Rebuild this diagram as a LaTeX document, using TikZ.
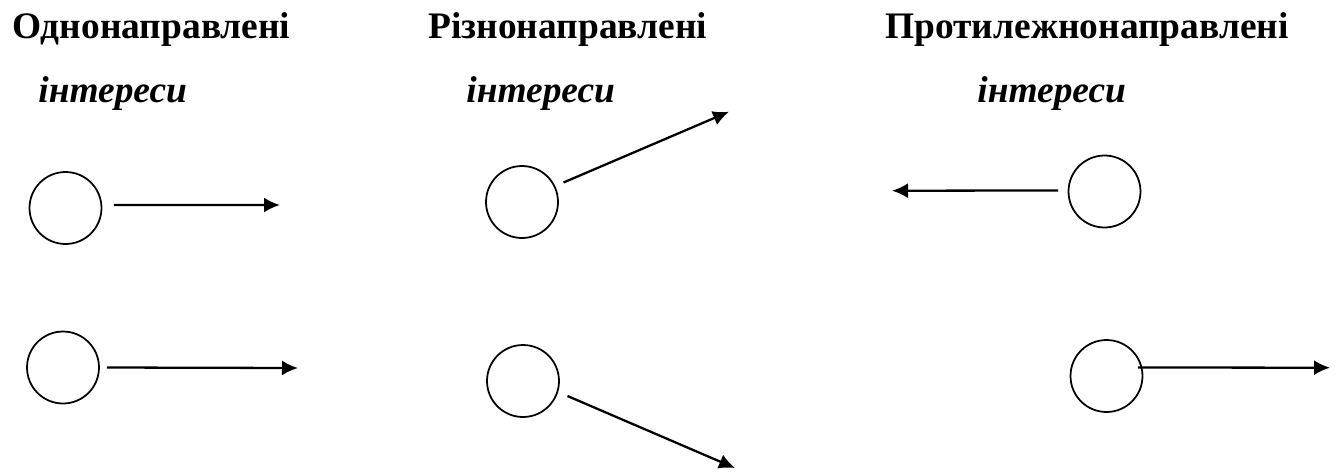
\documentclass[tikz,border=0pt]{standalone}
\usepackage{fontspec}
\setmainfont{Liberation Serif}
\usetikzlibrary{arrows.meta}

\tikzset{
  kolo/.style={draw, circle, line width=1pt, minimum size=1.44cm, inner sep=0pt},
  strilka/.style={line width=1.3pt, -{Latex[length=0.32cm,width=0.3cm]}},
  zagolovok/.style={anchor=base west, inner sep=0pt, font=\fontsize{21.3}{25}\selectfont\bfseries},
  pidpys/.style={anchor=base west, inner sep=0pt, font=\fontsize{21.3}{25}\selectfont\bfseries\itshape}
}

\begin{document}
\begin{tikzpicture}[x=0.02cm, y=-0.02cm]
            \useasboundingbox (0,0) rectangle (1339,471);

            % Заголовки
            \node[zagolovok] (z1) at (12,38) {Однонаправлені};
            \node[zagolovok] (z2) at (428,38) {Різнонаправлені};
            \node[zagolovok] (z3) at (885,38) {Протилежнонаправлені};
            \node[pidpys] (p1) at (38,102) {інтереси};
            \node[pidpys] (p2) at (466,102) {інтереси};
            \node[pidpys] (p3) at (977,102) {інтереси};

            % Кола
            \node[kolo] (c1) at (65.5,208) {};
            \node[kolo] (c2) at (63,367.5) {};
            \node[kolo] (c5) at (522,202) {};
            \node[kolo] (c6) at (523,381) {};
            \node[kolo] (c3) at (1104.5,191.5) {};
            \node[kolo] (c4) at (1106.5,376) {};

            % Кінці стрілок
            \coordinate (e1) at (280,205);
            \coordinate (e2) at (298,368);
            \coordinate (e5) at (729,111.7);
            \coordinate (e6) at (735,468);
            \coordinate (e3) at (892,190.7);
            \coordinate (e4) at (1330,367.7);

            % Стрілки
            \draw[strilka] ([shift={(0.23cm,0.06cm)}]c1.east) -- (e1);
            \draw[strilka] ([shift={(0.14cm,0cm)}]c2.east) -- (e2);
            \draw[strilka] ([shift={(0.83cm,0.39cm)}]c5.center) -- (e5);
            \draw[strilka] ([shift={(0.89cm,-0.30cm)}]c6.center) -- (e6);
            \draw[strilka] ([shift={(-0.19cm,0.02cm)}]c3.west) -- (e3);
            \draw[strilka] ([shift={(0.63cm,0.17cm)}]c4.center) -- (e4);
\end{tikzpicture}
\end{document}
